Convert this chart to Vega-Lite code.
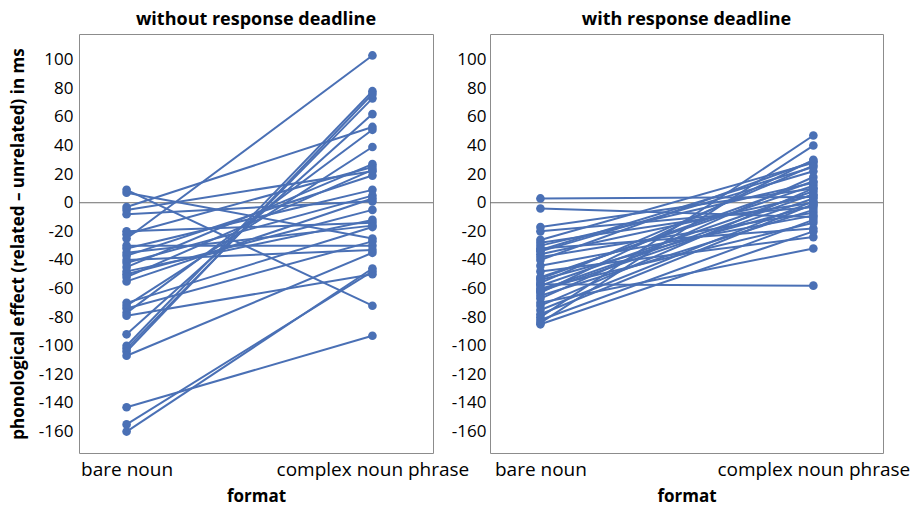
{
  "$schema": "https://vega.github.io/schema/vega-lite/v6.json",
  "padding": {"left": 8, "top": 10, "right": 2, "bottom": 2},
  "bounds": "flush",
  "spacing": 57,
  "datasets": {
    "L": [
      {"id": 1, "bare noun": 9, "complex noun phrase": -72},
      {"id": 2, "bare noun": 7, "complex noun phrase": -25},
      {"id": 3, "bare noun": -3, "complex noun phrase": 53},
      {"id": 4, "bare noun": -5, "complex noun phrase": 22},
      {"id": 5, "bare noun": -8, "complex noun phrase": 1},
      {"id": 6, "bare noun": -20, "complex noun phrase": -14},
      {"id": 7, "bare noun": -22, "complex noun phrase": 25},
      {"id": 8, "bare noun": -25, "complex noun phrase": 103},
      {"id": 9, "bare noun": -30, "complex noun phrase": -30},
      {"id": 10, "bare noun": -32, "complex noun phrase": 9},
      {"id": 11, "bare noun": -35, "complex noun phrase": -16},
      {"id": 12, "bare noun": -37, "complex noun phrase": 19},
      {"id": 13, "bare noun": -40, "complex noun phrase": -33},
      {"id": 14, "bare noun": -42, "complex noun phrase": 5},
      {"id": 15, "bare noun": -45, "complex noun phrase": 27},
      {"id": 16, "bare noun": -48, "complex noun phrase": -12},
      {"id": 17, "bare noun": -50, "complex noun phrase": -5},
      {"id": 18, "bare noun": -52, "complex noun phrase": 23},
      {"id": 19, "bare noun": -55, "complex noun phrase": 3},
      {"id": 20, "bare noun": -70, "complex noun phrase": -17},
      {"id": 21, "bare noun": -72, "complex noun phrase": 39},
      {"id": 22, "bare noun": -74, "complex noun phrase": -27},
      {"id": 23, "bare noun": -77, "complex noun phrase": 51},
      {"id": 24, "bare noun": -79, "complex noun phrase": -50},
      {"id": 25, "bare noun": -92, "complex noun phrase": 62},
      {"id": 26, "bare noun": -100, "complex noun phrase": 78},
      {"id": 27, "bare noun": -102, "complex noun phrase": 73},
      {"id": 28, "bare noun": -104, "complex noun phrase": 76},
      {"id": 29, "bare noun": -107, "complex noun phrase": -35},
      {"id": 30, "bare noun": -143, "complex noun phrase": -93},
      {"id": 31, "bare noun": -155, "complex noun phrase": -48},
      {"id": 32, "bare noun": -160, "complex noun phrase": -46}
    ],
    "R": [
      {"id": 1, "bare noun": 3, "complex noun phrase": 4},
      {"id": 2, "bare noun": -4, "complex noun phrase": -10},
      {"id": 3, "bare noun": -17, "complex noun phrase": 10},
      {"id": 4, "bare noun": -20, "complex noun phrase": -3},
      {"id": 5, "bare noun": -26, "complex noun phrase": 28},
      {"id": 6, "bare noun": -28, "complex noun phrase": 0},
      {"id": 7, "bare noun": -30, "complex noun phrase": 14},
      {"id": 8, "bare noun": -32, "complex noun phrase": -18},
      {"id": 9, "bare noun": -34, "complex noun phrase": 22},
      {"id": 10, "bare noun": -36, "complex noun phrase": 5},
      {"id": 11, "bare noun": -38, "complex noun phrase": -7},
      {"id": 12, "bare noun": -40, "complex noun phrase": 29},
      {"id": 13, "bare noun": -48, "complex noun phrase": -24},
      {"id": 14, "bare noun": -52, "complex noun phrase": 12},
      {"id": 15, "bare noun": -54, "complex noun phrase": -2},
      {"id": 16, "bare noun": -56, "complex noun phrase": 26},
      {"id": 17, "bare noun": -57, "complex noun phrase": -58},
      {"id": 18, "bare noun": -58, "complex noun phrase": 8},
      {"id": 19, "bare noun": -60, "complex noun phrase": -14},
      {"id": 20, "bare noun": -62, "complex noun phrase": 3},
      {"id": 21, "bare noun": -63, "complex noun phrase": 30},
      {"id": 22, "bare noun": -65, "complex noun phrase": -5},
      {"id": 23, "bare noun": -67, "complex noun phrase": 18},
      {"id": 24, "bare noun": -70, "complex noun phrase": -32},
      {"id": 25, "bare noun": -72, "complex noun phrase": 10},
      {"id": 26, "bare noun": -75, "complex noun phrase": 1},
      {"id": 27, "bare noun": -80, "complex noun phrase": 47},
      {"id": 28, "bare noun": -82, "complex noun phrase": -12},
      {"id": 29, "bare noun": -84, "complex noun phrase": 40},
      {"id": 30, "bare noun": -85, "complex noun phrase": -20},
      {"id": 31, "bare noun": -33, "complex noun phrase": 25},
      {"id": 32, "bare noun": -44, "complex noun phrase": -9},
      {"id": 33, "bare noun": -61, "complex noun phrase": 6},
      {"id": 34, "bare noun": -78, "complex noun phrase": -1},
      {"id": 35, "bare noun": -53, "complex noun phrase": 15}
    ],
    "zero": [{"v": 0}]
  },
  "config": {
    "font": "Open Sans",
    "view": {"stroke": "#8c8c8c", "strokeWidth": 1},
    "title": {"fontSize": 18, "fontWeight": "bold", "color": "#000", "offset": 5},
    "axis": {
      "labelFontSize": 17, "labelColor": "#000", "titleFontSize": 17, "titleFontWeight": "bold",
      "titleColor": "#000", "ticks": false, "domain": false, "grid": false, "labelPadding": 6, "labelOverlap": false, "labelLimit": 400
    }
  },
  "hconcat": [
    {
      "width": 354, "height": 419,
      "title": "without response deadline",
      "layer": [
        {
          "data": {"name": "zero"},
          "mark": {"type": "rule", "color": "#6e6e6e", "strokeWidth": 1},
          "encoding": {"y": {"field": "v", "type": "quantitative", "scale": {"domain": [-175, 118], "nice": false, "zero": false}, "axis": {"values": [-160, -140, -120, -100, -80, -60, -40, -20, 0, 20, 40, 60, 80, 100], "labelOverlap": false, "labelExpr": "'' + datum.value", "title": "phonological effect (related – unrelated) in ms", "titlePadding": 11}}}
        },
        {
          "data": {"name": "L"},
          "transform": [{"fold": ["bare noun", "complex noun phrase"], "as": ["format", "effect"]}],
          "layer": [
            {"mark": {"type": "line", "color": "#4a70b5", "strokeWidth": 2}, "encoding": {"detail": {"field": "id"}}},
            {"mark": {"type": "circle", "color": "#4a70b5", "opacity": 1, "size": 75}}
          ],
          "encoding": {
            "x": {"field": "format", "type": "nominal", "scale": {"type": "point", "padding": 0.22, "align": 0.44, "domain": ["bare noun", "complex noun phrase"]}, "axis": {"labelAngle": 0, "title": "format", "labelFontSize": 19, "labelPadding": 7, "titlePadding": 9, "labelLimit": 400}},
            "y": {"field": "effect", "type": "quantitative", "scale": {"domain": [-175, 118], "nice": false, "zero": false}, "axis": {"values": [-160, -140, -120, -100, -80, -60, -40, -20, 0, 20, 40, 60, 80, 100], "labelOverlap": false, "labelExpr": "'' + datum.value", "title": "phonological effect (related – unrelated) in ms", "titlePadding": 11}}
          }
        }
      ]
    },
    {
      "width": 393, "height": 419,
      "title": "with response deadline",
      "layer": [
        {
          "data": {"name": "zero"},
          "mark": {"type": "rule", "color": "#6e6e6e", "strokeWidth": 1},
          "encoding": {"y": {"field": "v", "type": "quantitative", "scale": {"domain": [-175, 118], "nice": false, "zero": false}, "axis": {"values": [-160, -140, -120, -100, -80, -60, -40, -20, 0, 20, 40, 60, 80, 100], "labelOverlap": false, "labelExpr": "'' + datum.value", "title": null, "labelPadding": 4}}}
        },
        {
          "data": {"name": "R"},
          "transform": [{"fold": ["bare noun", "complex noun phrase"], "as": ["format", "effect"]}],
          "layer": [
            {"mark": {"type": "line", "color": "#4a70b5", "strokeWidth": 2}, "encoding": {"detail": {"field": "id"}}},
            {"mark": {"type": "circle", "color": "#4a70b5", "opacity": 1, "size": 75}}
          ],
          "encoding": {
            "x": {"field": "format", "type": "nominal", "scale": {"type": "point", "padding": 0.22, "align": 0.42, "domain": ["bare noun", "complex noun phrase"]}, "axis": {"labelAngle": 0, "title": "format", "labelFontSize": 19, "labelPadding": 7, "titlePadding": 9, "labelLimit": 400}},
            "y": {"field": "effect", "type": "quantitative", "scale": {"domain": [-175, 118], "nice": false, "zero": false}, "axis": {"values": [-160, -140, -120, -100, -80, -60, -40, -20, 0, 20, 40, 60, 80, 100], "labelOverlap": false, "labelExpr": "'' + datum.value", "title": null, "labelPadding": 4}}
          }
        }
      ]
    }
  ]
}
